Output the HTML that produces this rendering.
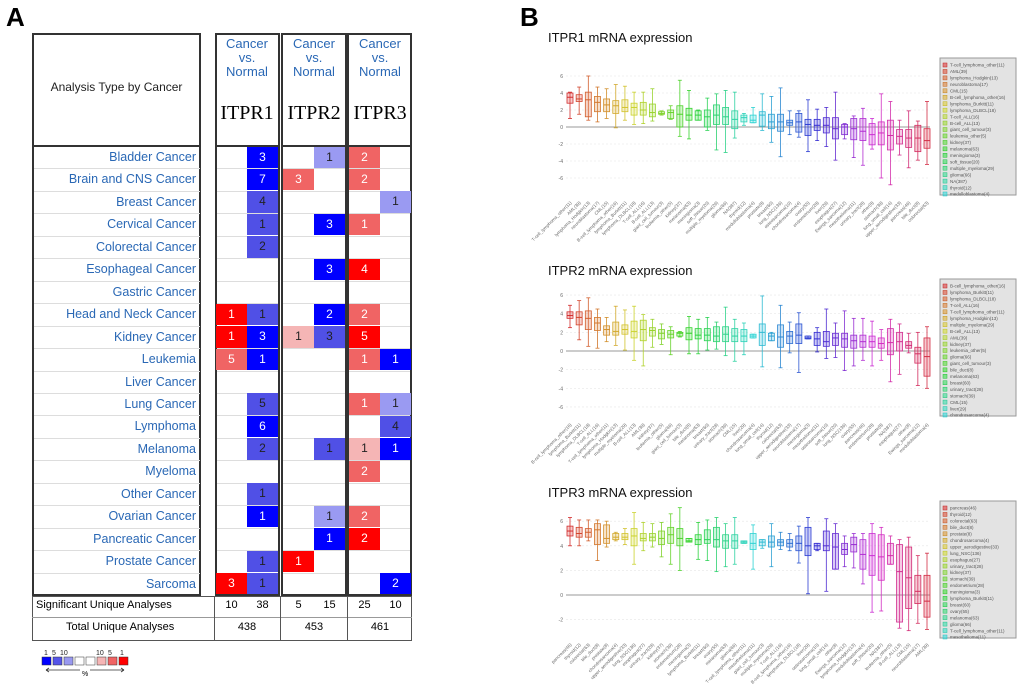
<!DOCTYPE html>
<html><head><meta charset="utf-8">
<style>
body{margin:0;width:1020px;height:689px;background:#fff;position:relative;overflow:hidden;font-family:"Liberation Sans",sans-serif}
.abs{position:absolute}
.box{position:absolute;border:2px solid #333;box-sizing:border-box}
.cn{position:absolute;left:34px;width:162px;text-align:right;color:#2a68b5;font-size:12.5px;line-height:22px}
.cell{position:absolute;font-size:12px;text-align:center;line-height:21px}
.hl{position:absolute;height:1px;background:#ddd}
</style></head><body>
<div class="abs" style="left:6px;top:2px;font-size:26px;font-weight:bold">A</div>
<div class="abs" style="left:520px;top:2px;font-size:26px;font-weight:bold">B</div>

<div class="box" style="left:32px;top:33px;width:169px;height:114px"></div>
<div class="abs" style="left:32px;top:80px;width:169px;text-align:center;font-size:12px;color:#222">Analysis Type by Cancer</div>
<div class="box" style="left:215px;top:33px;width:65px;height:114px"></div>
<div class="box" style="left:281px;top:33px;width:66px;height:114px"></div>
<div class="box" style="left:347px;top:33px;width:65px;height:114px"></div>
<div id="hdrs"></div>
<div class="box" style="left:32px;top:145px;width:169px;height:451px"></div>
<div class="box" style="left:215px;top:145px;width:65px;height:451px"></div>
<div class="box" style="left:281px;top:145px;width:66px;height:451px"></div>
<div class="box" style="left:347px;top:145px;width:65px;height:451px"></div>
<div id="rows"></div>
<div class="abs" style="left:32px;top:596px;width:380px;height:45px;border:1px solid #555;box-sizing:border-box"></div>
<div class="abs" style="left:32px;top:617px;width:380px;height:1px;background:#999"></div>
<div class="abs" style="left:36px;top:599px;font-size:11px">Significant Unique Analyses</div>
<div class="abs" style="left:66px;top:621px;font-size:11px">Total Unique Analyses</div>
<div id="sums"></div>

<div class="abs" style="left:38px;top:648px;width:140px;height:30px">
<svg width="140" height="30">
<g font-size="7" font-family="Liberation Sans" fill="#222"><text x="6" y="7">1</text><text x="14" y="7">5</text><text x="22" y="7">10</text><text x="58" y="7">10</text><text x="70" y="7">5</text><text x="82" y="7">1</text></g>
<rect x="4" y="9" width="9" height="8" fill="#0000ff" stroke="#333" stroke-width=".5"/>
<rect x="15" y="9" width="9" height="8" fill="#5555e8" stroke="#333" stroke-width=".5"/>
<rect x="26" y="9" width="9" height="8" fill="#9999f0" stroke="#333" stroke-width=".5"/>
<rect x="37" y="9" width="9" height="8" fill="#fff" stroke="#333" stroke-width=".5"/>
<rect x="48" y="9" width="9" height="8" fill="#fff" stroke="#333" stroke-width=".5"/>
<rect x="59" y="9" width="9" height="8" fill="#f5b5b5" stroke="#333" stroke-width=".5"/>
<rect x="70" y="9" width="9" height="8" fill="#f06464" stroke="#333" stroke-width=".5"/>
<rect x="81" y="9" width="9" height="8" fill="#ff0000" stroke="#333" stroke-width=".5"/>
<path d="M8 22 H42 M8 22 l3 -2 M8 22 l3 2 M52 22 H86 M86 22 l-3 -2 M86 22 l-3 2" stroke="#333" stroke-width=".8" fill="none"/>
<text x="44" y="28" font-size="7" font-family="Liberation Sans">%</text>
</svg></div>

<svg id="plots" class="abs" style="left:0;top:0" width="1020" height="689"></svg>

<script>
// ---- Panel A table data ----
const cancers=["Bladder Cancer","Brain and CNS Cancer","Breast Cancer","Cervical Cancer","Colorectal Cancer","Esophageal Cancer","Gastric Cancer","Head and Neck Cancer","Kidney Cancer","Leukemia","Liver Cancer","Lung Cancer","Lymphoma","Melanoma","Myeloma","Other Cancer","Ovarian Cancer","Pancreatic Cancer","Prostate Cancer","Sarcoma"];
const cells=[
["","3s","","1l","2m",""],["","7s","3m","","2m",""],["","4m","","","","1l"],["","1m","","3s","1m",""],
["","2m","","","",""],["","","","3s","4s",""],["","","","","",""],["1s","1m","","2s","2m",""],
["1s","3s","1l","3m","5s",""],["5m","1s","","","1m","1s"],["","","","","",""],["","5m","","","1m","1l"],
["","6s","","","","4m"],["","2m","","1m","1l","1s"],["","","","","2m",""],["","1m","","","",""],
["","1s","","1l","2m",""],["","","","1s","2s",""],["","1m","1s","","",""],["3s","1m","","","","2s"]];
const genes=["ITPR1","ITPR2","ITPR3"];
const sigUp=[10,5,25], sigDown=[38,15,10], totals=[438,453,461];
const colX=[[216,247],[283,314],[349,380]];
const colW=31;
const red={s:"#ff0000",m:"#f06464",l:"#f5b5b5"}, blue={s:"#0000ff",m:"#5050e6",l:"#9a9af2"};
const hd=document.getElementById('hdrs');
genes.forEach((g,i)=>{
 const x=colX[i][0];
 const d=document.createElement('div');d.className='abs';
 
 
 d.style.cssText=`left:${x}px;top:37px;width:62px;text-align:center;color:#2a68b5;font-size:13px;line-height:14px`;
 d.innerHTML='Cancer<br>vs.<br>Normal<div style="color:#000;font-family:Liberation Serif;font-size:20px;margin-top:27px">'+g+'</div>';
 hd.appendChild(d);
});
const rows=document.getElementById('rows');
const rh=22.45, top0=146;
cancers.forEach((c,r)=>{
 const y=top0+r*rh;
 const n=document.createElement('div');n.className='cn';n.style.top=y+'px';n.textContent=c;
 
 
 rows.appendChild(n);
 if(r>0){[[34,166],[217,61],[283,62],[349,61]].forEach(([x,w])=>{const l=document.createElement('div');l.className='hl';l.style.cssText=`left:${x}px;top:${y}px;width:${w}px`;rows.appendChild(l);});}
 cells[r].forEach((v,k)=>{
  if(!v)return;
  const g=Math.floor(k/2), isBlue=k%2==1;
  const val=v.slice(0,-1), lv=v.slice(-1);
  const d=document.createElement('div');d.className='cell';
  
  
  d.style.cssText=`left:${colX[g][isBlue?1:0]}px;top:${y+0.5}px;width:${colW}px;height:${rh-1}px;background:${(isBlue?blue:red)[lv]};color:${lv=='s'?'#fff':(lv=='m'&&!isBlue?'#fff':'#222')}`;
  d.textContent=val;rows.appendChild(d);
 });
});
const sm=document.getElementById('sums');
genes.forEach((g,i)=>{
 [[sigUp[i],colX[i][0]],[sigDown[i],colX[i][1]]].forEach(([v,x])=>{
  const d=document.createElement('div');d.className='abs';
  
  
  d.style.cssText=`left:${x}px;top:599px;width:${colW}px;text-align:center;font-size:11px`;d.textContent=v;sm.appendChild(d);});
 const d=document.createElement('div');d.className='abs';
 
 
 d.style.cssText=`left:${colX[i][0]}px;top:621px;width:62px;text-align:center;font-size:11px`;d.textContent=totals[i];sm.appendChild(d);
 if(i<2){const s=document.createElement('div');s.className='abs';s.style.cssText=`left:${colX[i][0]+64}px;top:596px;width:1px;height:45px;background:#555`;sm.appendChild(s);}
});
const s0=document.createElement('div');s0.className='abs';s0.style.cssText='left:214px;top:596px;width:1px;height:45px;background:#555';sm.appendChild(s0);
</script>

<script>
// ---- Panel B box plot data ----
const names1=["T-cell_lymphoma_other(11)","AML(39)","lymphoma_Hodgkin(13)","neuroblastoma(17)","CML(15)","B-cell_lymphoma_other(16)","lymphoma_Burkitt(11)","lymphoma_DLBCL(18)","T-cell_ALL(16)","B-cell_ALL(13)","giant_cell_tumour(3)","leukemia_other(5)","kidney(37)","melanoma(63)","meningioma(3)","soft_tissue(20)","multiple_myeloma(29)","glioma(66)","NA(387)","thyroid(12)","medulloblastoma(4)","prostate(8)","breast(60)","lung_NSC(136)","osteosarcoma(10)","chondrosarcoma(4)","ovary(55)","endometrium(28)","liver(29)","esophagus(27)","Ewings_sarcoma(12)","mesothelioma(11)","urinary_tract(28)","other(8)","stomach(39)","lung_small_cell(14)","upper_aerodigestive(33)","pancreas(46)","bile_duct(8)","colorectal(63)"];
const med1=[3.5,3.3,3.2,2.9,2.6,2.5,2.3,2.3,2.0,1.7,1.6,1.7,1.5,1.4,1.4,1.2,1.4,1.2,0.9,1.1,0.8,1.4,0.6,0.6,0.5,0.6,0.3,0.2,0.2,-0.2,0.0,-0.2,-0.5,-0.9,-0.7,-1.0,-1.1,-1.3,-1.3,-1.6];
const q1_1=[2.8,3.0,1.2,1.8,1.8,1.6,1.8,1.4,1.4,1.2,1.5,1.0,0.0,0.8,0.8,0.0,0.3,0.3,-0.2,0.6,0.5,0.1,-0.2,-0.5,0.2,-0.6,-1.0,-0.4,-0.7,-1.4,-0.9,-1.5,-1.6,-2.1,-2.1,-2.7,-2.0,-2.4,-2.9,-2.5];
const q3_1=[4.0,3.8,4.1,3.6,3.3,3.1,3.2,2.8,2.9,2.7,1.8,2.0,2.5,2.2,1.9,2.0,2.6,2.3,1.9,1.4,1.4,1.8,1.5,1.5,0.8,1.6,0.9,0.9,1.1,1.1,0.3,1.0,1.0,0.4,0.6,0.8,-0.3,-0.3,0.2,-0.2];
const lo1=[1.0,1.5,0.8,0.6,1.0,-0.1,0.8,0.3,0.4,0.7,1.4,0.9,-1.1,-1.4,0.8,-0.4,-2.7,-3.0,-1.3,0.2,0.5,-0.4,-1.8,-3.5,-0.9,-1.2,-2.9,-1.6,-2.3,-3.9,-1.4,-3.6,-4.5,-2.6,-6.0,-6.8,-3.3,-4.8,-3.9,-4.4];
const hi1=[4.1,4.7,6.0,4.7,4.5,5.0,4.8,4.1,4.1,4.5,1.9,2.5,5.5,4.3,2.0,3.4,3.9,4.3,4.1,1.6,2.3,3.9,3.6,4.6,1.9,1.9,3.2,2.1,2.3,4.1,0.4,1.3,2.2,1.0,3.9,3.0,0.8,1.9,0.7,3.0];

const names2=["B-cell_lymphoma_other(16)","lymphoma_Burkitt(11)","lymphoma_DLBCL(18)","T-cell_ALL(16)","T-cell_lymphoma_other(11)","lymphoma_Hodgkin(13)","multiple_myeloma(29)","B-cell_ALL(13)","AML(39)","kidney(37)","leukemia_other(5)","glioma(66)","giant_cell_tumour(3)","bile_duct(8)","melanoma(63)","breast(60)","urinary_tract(28)","stomach(39)","CML(15)","liver(29)","chondrosarcoma(4)","lung_small_cell(14)","thyroid(12)","colorectal(63)","upper_aerodigestive(33)","neuroblastoma(17)","meningioma(3)","mesothelioma(11)","osteosarcoma(10)","soft_tissue(20)","lung_NSC(136)","ovary(55)","pancreas(46)","endometrium(28)","prostate(8)","NA(387)","esophagus(27)","other(8)","Ewings_sarcoma(12)","medulloblastoma(4)"];
const med2=[3.8,3.6,3.5,3.0,2.3,2.1,2.3,2.1,2.3,2.2,1.9,1.8,1.9,1.9,1.7,1.7,1.6,1.8,1.6,1.6,1.6,2.0,1.6,1.5,1.6,1.7,1.4,1.3,1.0,1.4,1.3,1.1,1.0,1.0,0.8,0.9,1.0,0.6,-0.3,-0.6];
const q1_2=[3.5,2.8,2.3,2.2,1.7,1.7,1.8,1.4,1.1,1.6,1.3,1.4,1.6,1.2,1.3,1.1,1.0,1.0,1.0,1.0,1.4,0.6,1.1,0.4,0.8,0.8,1.3,0.6,0.5,0.6,0.4,0.3,0.4,0.4,0.3,-0.4,0.0,0.3,-1.3,-2.7];
const q3_2=[4.2,4.2,4.3,3.6,2.7,3.1,2.8,3.2,3.3,2.5,2.3,2.2,2.0,2.5,2.4,2.4,2.6,2.6,2.4,2.3,1.8,2.9,1.9,2.8,2.1,2.9,1.6,2.0,2.1,1.9,1.9,1.7,1.7,1.6,1.4,2.4,2.0,1.0,0.4,1.4];
const lo2=[2.5,1.2,0.5,0.3,1.0,0.6,0.1,-1.0,-1.6,0.4,0.7,-0.4,1.5,-0.3,-0.3,0.1,0.2,-0.5,-1.1,-0.4,1.4,-1.7,1.1,-1.8,-0.2,-2.3,1.3,-0.1,-0.8,-0.7,-2.1,-1.6,-1.0,-1.6,-1.0,-3.3,-2.5,-0.2,-3.7,-4.0];
const hi2=[4.9,5.4,5.7,4.5,3.6,4.8,4.4,4.8,3.9,3.4,2.9,2.6,2.1,3.7,3.4,3.6,3.1,4.7,3.4,3.0,1.8,5.9,2.0,4.9,3.1,4.1,1.6,2.5,4.5,3.0,4.3,3.5,3.5,3.2,2.3,3.4,2.9,1.9,2.0,2.6];

const names3=["pancreas(46)","thyroid(12)","colorectal(63)","bile_duct(8)","prostate(8)","chondrosarcoma(4)","upper_aerodigestive(33)","lung_NSC(136)","esophagus(27)","urinary_tract(28)","kidney(37)","stomach(39)","endometrium(28)","meningioma(3)","lymphoma_Burkitt(11)","breast(60)","ovary(55)","melanoma(63)","glioma(66)","T-cell_lymphoma_other(11)","mesothelioma(11)","giant_cell_tumour(3)","multiple_myeloma(29)","T-cell_ALL(16)","B-cell_lymphoma_other(16)","lymphoma_DLBCL(18)","liver(29)","osteosarcoma(10)","lung_small_cell(14)","other(8)","Ewings_sarcoma(12)","lymphoma_Hodgkin(13)","medulloblastoma(4)","soft_tissue(20)","NA(387)","leukemia_other(5)","B-cell_ALL(13)","CML(15)","neuroblastoma(17)","AML(39)"];
const med3=[5.2,5.0,5.1,5.3,4.6,4.7,4.7,4.8,4.6,4.7,4.6,4.9,4.6,4.4,4.5,4.5,4.5,4.4,4.4,4.3,4.2,4.3,4.3,4.3,4.2,4.2,4.0,4.0,4.0,3.9,3.7,4.1,3.3,3.2,3.1,3.2,1.9,1.4,0.3,-0.5];
const q1_3=[4.8,4.7,4.7,4.1,4.2,4.5,4.5,4.0,4.4,4.4,4.1,4.2,4.0,4.3,4.1,4.2,3.9,3.8,3.8,4.2,3.7,4.0,3.9,4.0,3.9,3.6,3.2,3.7,3.6,2.1,3.3,3.5,2.1,1.6,1.2,2.5,-2.2,-1.1,-0.7,-1.8];
const q3_3=[5.6,5.5,5.4,5.8,5.7,5.0,5.0,5.4,5.0,5.0,5.2,5.5,5.4,4.6,4.9,5.3,5.5,4.9,4.9,4.4,5.0,4.5,4.8,4.5,4.5,4.8,5.5,4.2,5.2,5.0,4.2,4.7,4.5,5.0,4.9,4.2,4.1,3.9,1.6,1.6];
const lo3=[4.0,4.0,4.4,2.8,3.9,4.4,4.1,2.5,3.6,3.9,3.1,2.5,2.0,4.3,2.9,2.8,1.9,2.3,2.5,4.2,2.1,3.8,2.3,3.7,3.6,2.6,0.1,3.6,0.3,2.1,2.3,2.2,0.9,-1.4,-1.3,2.5,-2.7,-2.9,-2.3,-2.8];
const hi3=[6.3,6.1,6.1,6.1,6.0,5.1,5.4,6.7,5.9,5.8,5.9,6.6,7.1,4.6,5.9,6.1,6.3,5.8,6.3,4.4,5.7,4.5,5.8,5.1,5.0,5.6,6.3,4.2,6.2,5.8,4.8,5.0,5.0,5.8,5.5,4.8,4.5,4.7,3.2,3.4];

const ticks1=[6,4,2,0,-2,-4,-6], ticks2=[6,4,2,0,-2,-4,-6], ticks3=[6,4,2,0,-2];
const titles=["ITPR1 mRNA expression","ITPR2 mRNA expression","ITPR3 mRNA expression"];

const NS="http://www.w3.org/2000/svg";
const svg=document.getElementById('plots');
function mk(t,a,p){const e=document.createElementNS(NS,t);for(const k in a)e.setAttribute(k,a[k]);(p||svg).appendChild(e);return e;}
const charts=[
 {t:titles[0],ty:42,zero:127,ppu:8.5,ticks:ticks1,names:names1,med:med1,q1:q1_1,q3:q3_1,lo:lo1,hi:hi1,ly:58,lab:203,key:'itpr1'},
 {t:titles[1],ty:275,zero:351,ppu:9.33,ticks:ticks2,names:names2,med:med2,q1:q1_2,q3:q3_2,lo:lo2,hi:hi2,ly:279,lab:425,key:'itpr2'},
 {t:titles[2],ty:497,zero:595,ppu:12.3,ticks:ticks3,names:names3,med:med3,q1:q1_3,q3:q3_3,lo:lo3,hi:hi3,ly:501,lab:645,key:'itpr3'}];
const x0=570, step=(927-570)/39;
charts.forEach(c=>{
 const g=mk('g',{});
 
 
 const y=v=>c.zero-v*c.ppu;
 const xp=i=>x0+i*step;
 const tt=mk('text',{x:548,y:c.ty,'font-size':13,'font-family':'Liberation Sans',fill:'#111'},g);tt.textContent=c.t;
 
 
 c.ticks.forEach(t=>{
  mk('line',{x1:566,x2:930,y1:y(t),y2:y(t),stroke:t==0?'#999':'#e6e6e6','stroke-width':t==0?1:0.6,'stroke-dasharray':t==0?'':'2,2'},g);
  const tl=mk('text',{x:563,y:y(t)+2,'font-size':5,'text-anchor':'end',fill:'#666','font-family':'Liberation Sans'},g);tl.textContent=t;
  
  
 });
 c.med.forEach((m,i)=>{
  const col=`hsl(${(i*9)%360},65%,50%)`, fill=`hsla(${(i*9)%360},70%,60%,0.3)`;
  const x=xp(i), w=6;
  const b=mk('g',{},g);
  
  
  mk('line',{x1:x,x2:x,y1:y(c.hi[i]),y2:y(c.lo[i]),stroke:col,'stroke-width':0.8},b);
  mk('line',{x1:x-2,x2:x+2,y1:y(c.hi[i]),y2:y(c.hi[i]),stroke:col,'stroke-width':0.8},b);
  mk('line',{x1:x-2,x2:x+2,y1:y(c.lo[i]),y2:y(c.lo[i]),stroke:col,'stroke-width':0.8},b);
  mk('rect',{x:x-w/2,y:y(c.q3[i]),width:w,height:Math.max(1,y(c.q1[i])-y(c.q3[i])),fill:fill,stroke:col,'stroke-width':0.8},b);
  mk('line',{x1:x-w/2,x2:x+w/2,y1:y(m),y2:y(m),stroke:col,'stroke-width':1},b);
  const lb=mk('text',{x:x+2,y:c.lab,'font-size':4.5,'text-anchor':'end',fill:'#666','font-family':'Liberation Sans',transform:`rotate(-45 ${x+2} ${c.lab})`},g);
  lb.textContent=c.names[i];
  
  
 });
 const lg=mk('g',{},g);
 
 
 mk('rect',{x:940,y:c.ly,width:76,height:137,fill:'#e3e3e3',stroke:'#999','stroke-width':1},lg);
 for(let i=0;i<21;i++){
  const ly=c.ly+5+i*6.45;
  if(ly>c.ly+134)break;
  mk('rect',{x:943,y:ly,width:4,height:4,fill:`hsla(${(i*9)%360},70%,55%,0.6)`,stroke:`hsl(${(i*9)%360},70%,45%)`,'stroke-width':0.5},lg);
  const lt=mk('text',{x:950,y:ly+3.7,'font-size':4.5,fill:'#555','font-family':'Liberation Sans'},lg);lt.textContent=c.names[i];
  
  
 }
});
</script>
</body></html>
